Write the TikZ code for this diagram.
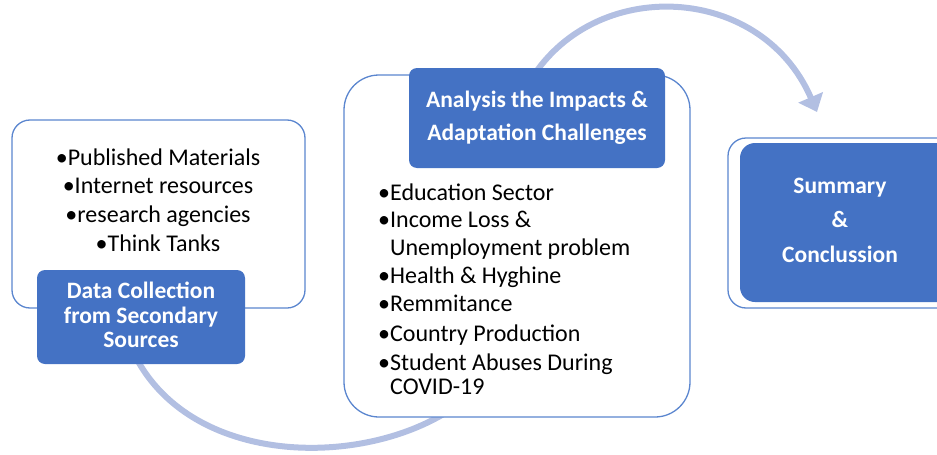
\documentclass[tikz,border=0pt]{standalone}
\usepackage{fontspec}
\setmainfont{Carlito}
\usetikzlibrary{arrows.meta}
\definecolor{offblue}{HTML}{4472C4}
\definecolor{edgeblue}{HTML}{5B86CF}
\definecolor{arcblue}{HTML}{B2BFE2}
\tikzset{
  outerbox/.style={draw=edgeblue, line width=1.3pt, fill=white, rectangle},
  bluebox/.style={fill=offblue, draw=none, rectangle, rounded corners=8pt},
  wtxt/.style={text=white, font=\fontsize{23.5}{27}\selectfont\bfseries, inner sep=0pt, anchor=base},
  btxt/.style={text=black, font=\fontsize{24}{28}\selectfont, inner sep=0pt},
  flowarc/.style={draw=arcblue, line width=6pt}
}
\begin{document}
\begin{tikzpicture}[x=1pt,y=-1pt]
\useasboundingbox (0,0) rectangle (937,455);
\begin{scope}
\clip (0,0) rectangle (937,455);
% arcs behind boxes
\coordinate (a1s) at (130,345);
\coordinate (a1e) at (470,395);
\draw[flowarc] (a1s) .. controls (185,475) and (385,470) .. (a1e);
\coordinate (a2s) at (525,90);
\coordinate (a2e) at (817,112);
\draw[flowarc, -{Triangle[width=26pt,length=16pt]}] (a2s) .. controls (585,-25) and (760,-20) .. (a2e);

% left group
\node[outerbox, rounded corners=18pt, minimum width=293pt, minimum height=188pt] (lout) at (158.5,214) {};
\node[bluebox, minimum width=208pt, minimum height=94pt] (lblue) at (141,317) {};
\node[btxt, anchor=base] (lt1) at (158,165) {•Published Materials};
\node[btxt, anchor=base] (lt2) at (158,193) {•Internet resources};
\node[btxt, anchor=base] (lt3) at (158,222) {•research agencies};
\node[btxt, anchor=base] (lt4) at (158,251) {•Think Tanks};
\node[wtxt] (lw1) at (141,298) {Data Collection};
\node[wtxt] (lw2) at (141,323) {from Secondary};
\node[wtxt] (lw3) at (141,347) {Sources};

% middle group
\node[outerbox, rounded corners=35pt, minimum width=346pt, minimum height=342pt] (mout) at (517,246) {};
\node[bluebox, minimum width=256pt, minimum height=100pt] (mblue) at (537,118) {};
\node[wtxt] (mw1) at (537,107) {Analysis the Impacts \&};
\node[wtxt] (mw2) at (537,140) {Adaptation Challenges};
\node[btxt, anchor=base west] (m1) at (378,200) {•Education Sector};
\node[btxt, anchor=base west] (m2) at (378,227) {•Income Loss \&};
\node[btxt, anchor=base west] (m3) at (378,255) {\phantom{•}Unemployment problem};
\node[btxt, anchor=base west] (m4) at (378,283) {•Health \& Hyghine};
\node[btxt, anchor=base west] (m5) at (378,311) {•Remmitance};
\node[btxt, anchor=base west] (m6) at (378,341) {•Country Production};
\node[btxt, anchor=base west] (m7) at (378,370) {•Student Abuses During};
\node[btxt, anchor=base west] (m8) at (378,394) {\phantom{•}COVID-19};

% right group
\node[outerbox, rounded corners=18pt, minimum width=240pt, minimum height=170pt] (rout) at (848,223) {};
\node[bluebox, rounded corners=15pt, minimum width=225pt, minimum height=159pt] (rblue) at (852.5,222.5) {};
\node[wtxt] (rw1) at (840,193) {Summary};
\node[wtxt] (rw2) at (840,227) {\&};
\node[wtxt] (rw3) at (840,262) {Conclussion};
\end{scope}
\end{tikzpicture}
\end{document}
